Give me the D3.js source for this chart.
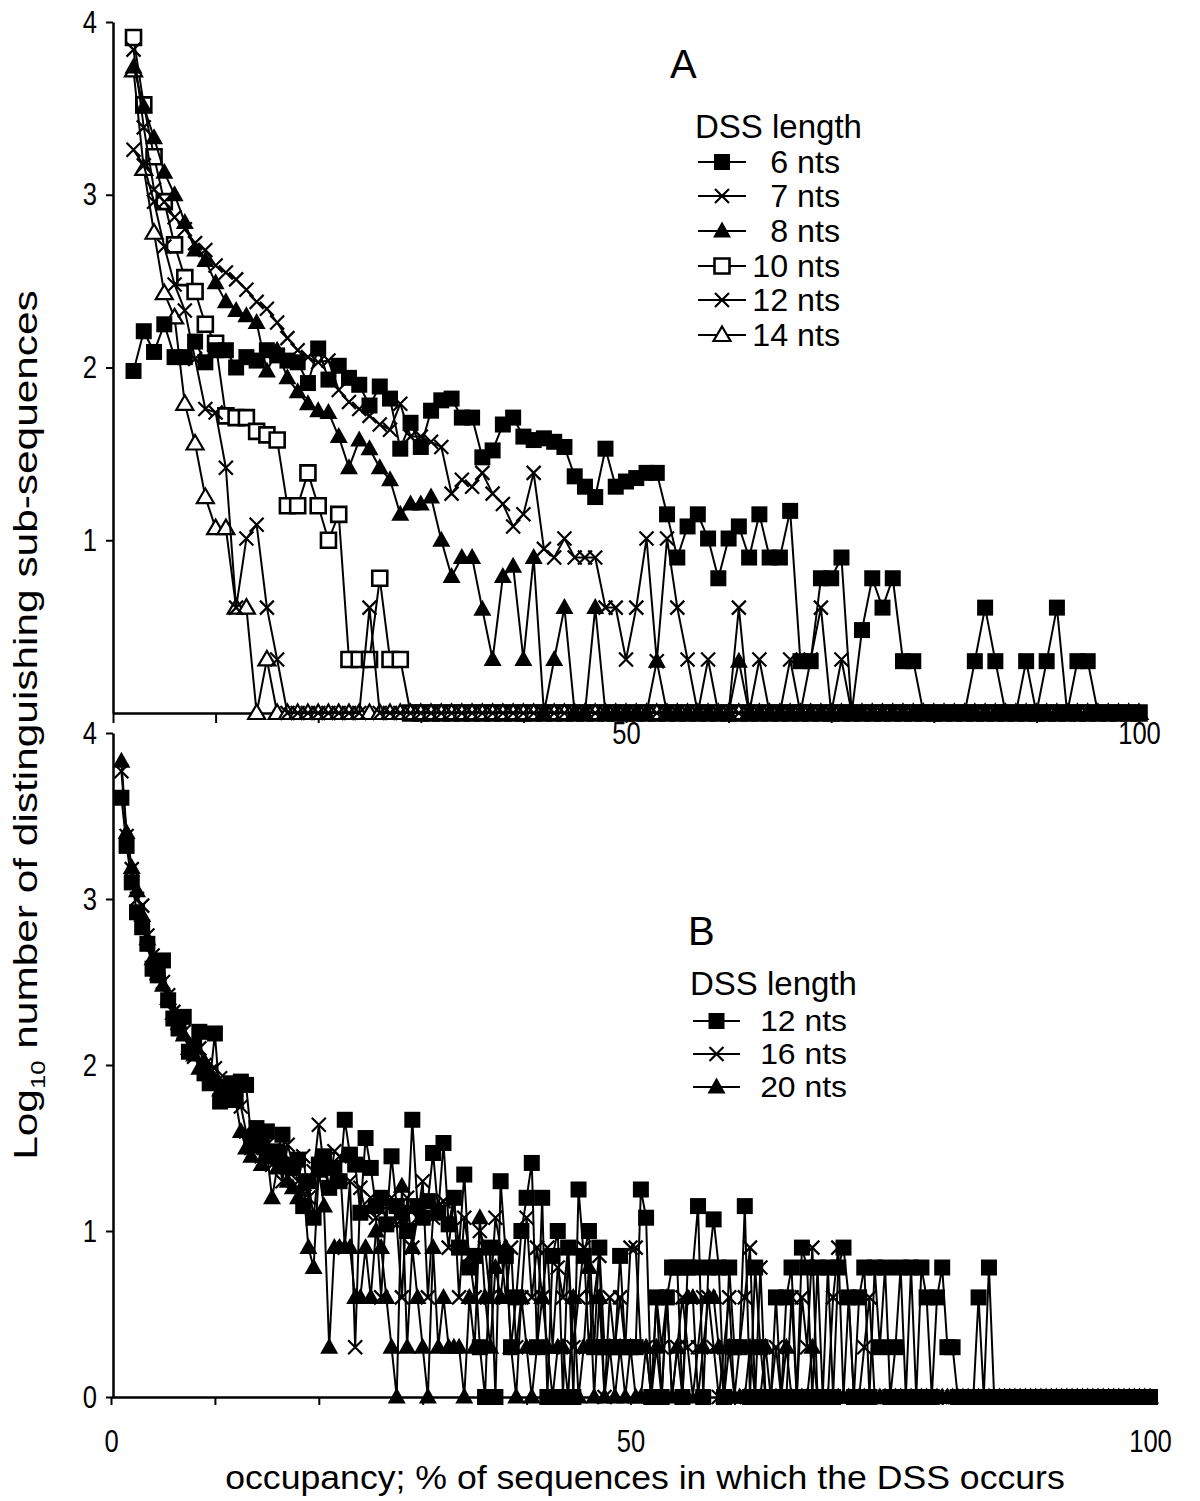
<!DOCTYPE html>
<html><head><meta charset="utf-8">
<script src="https://cdn.jsdelivr.net/npm/d3@7"></script>
<style>body{margin:0;background:#fff}svg{display:block}</style>
</head><body>
<svg id="c" width="1200" height="1501"></svg>
<script>
// ---------- DATA ----------
// Panel A: occupancy (%) 2..100 step 1
const occA = d3.range(2, 101);
const seriesNamesA = ["6 nts", "7 nts", "8 nts", "10 nts", "12 nts", "14 nts"];
const a6 = [1.98,2.21,2.09,2.25,2.06,2.06,2.15,2.03,2.10,2.10,
 2.00,2.06,2.04,2.10,2.07,2.04,2.03,1.91,2.11,1.93,
 2.01,1.94,1.90,1.78,1.89,1.82,1.53,1.68,1.54,1.75,
 1.81,1.82,1.71,1.71,1.48,1.52,1.67,1.71,1.60,1.58,
 1.59,1.57,1.54,1.37,1.31,1.25,1.53,1.31,1.34,1.36,
 1.39,1.39,1.15,0.90,1.08,1.15,1.01,0.78,1.01,1.08,
 0.90,1.15,0.90,0.90,1.17,0.30,0.30,0.78,0.78,0.90,
 0,0.48,0.78,0.61,0.78,0.30,0.30,0,0,0,
 0,0,0.30,0.61,0.30,0,0,0.30,0,0.30,
 0.61,0,0.30,0.30,0,0,0,0,0];
const a7 = [3.84,3.39,3.03,2.96,2.87,2.80,2.72,2.68,2.59,2.55,
 2.51,2.45,2.38,2.34,2.26,2.17,2.10,2.06,2.03,2.04,
 1.87,1.80,1.76,1.72,1.67,1.64,1.79,1.60,1.60,1.57,
 1.54,1.27,1.35,1.31,1.39,1.27,1.21,1.08,1.15,1.39,
 0.95,0.90,1.01,0.90,0.90,0.90,0.61,0.61,0.31,0.61,
 1.01,0.30,1.01,0.61,0.31,0,0.31,0,0,0.61,
 0,0.31,0,0,0.31,0,0.31,0.61,0,0.31,
 0,0,0,0,0,0,0,0,0,0,
 0,0,0,0,0,0,0,0,0,0,
 0,0,0,0,0,0,0,0,0];
const a8 = [3.74,3.51,3.33,3.13,3.00,2.84,2.68,2.62,2.49,2.38,
 2.33,2.30,2.26,1.98,2.10,1.94,1.86,1.79,1.75,1.74,
 1.60,1.42,1.58,1.53,1.42,1.35,1.15,1.21,1.21,1.25,
 1.00,0.79,0.90,0.90,0.60,0.31,0.79,0.85,0.31,0.90,
 0,0.31,0.61,0,0,0.61,0,0,0,0,
 0,0.30,0,0,0,0,0,0,0,0.30,
 0,0,0,0,0,0,0,0,0,0,
 0,0,0,0,0,0,0,0,0,0,
 0,0,0,0,0,0,0,0,0,0,
 0,0,0,0,0,0,0,0,0];
const a10 = [3.91,3.52,3.22,2.96,2.71,2.52,2.44,2.25,2.14,1.72,
 1.71,1.71,1.63,1.61,1.58,1.20,1.20,1.39,1.20,1.00,
 1.15,0.31,0.31,0.31,0.78,0.31,0.31,0,0,0,
 0,0,0,0,0,0,0,0,0,0,
 0,0,0,0,0,0,0,0,0,0,
 0,0,0,0,0,0,0,0,0,0,
 0,0,0,0,0,0,0,0,0,0,
 0,0,0,0,0,0,0,0,0,0,
 0,0,0,0,0,0,0,0,0,0,
 0,0,0,0,0,0,0,0,0];
const a12 = [3.26,3.17,2.96,2.70,2.48,2.33,2.05,1.76,1.74,1.42,
 0.61,1.01,1.09,0.61,0.31,0,0,0,0,0,
 0,0,0,0.61,0,0,0,0,0,0,
 0,0,0,0,0,0,0,0,0,0,
 0,0,0,0,0,0,0,0,0,0,
 0,0,0,0,0,0,0,0,0,0,
 0,0,0,0,0,0,0,0,0,0,
 0,0,0,0,0,0,0,0,0,0,
 0,0,0,0,0,0,0,0,0,0,
 0,0,0,0,0,0,0,0,0];
const a14 = [3.72,3.15,2.78,2.43,2.29,1.79,1.56,1.25,1.07,1.07,
 0.61,0.61,0,0.31,0,0,0,0,0,0,
 0,0,0,0,0,0,0,0,0,0,
 0,0,0,0,0,0,0,0,0,0,
 0,0,0,0,0,0,0,0,0,0,
 0,0,0,0,0,0,0,0,0,0,
 0,0,0,0,0,0,0,0,0,0,
 0,0,0,0,0,0,0,0,0,0,
 0,0,0,0,0,0,0,0,0,0,
 0,0,0,0,0,0,0,0,0];

// Panel B: occupancy (%) 1..100 step 0.5
const occB = d3.range(1, 100.001, 0.5);
const seriesNamesB = ["12 nts", "16 nts", "20 nts"];
const b12 = [3.61,3.32,3.10,2.92,2.83,2.73,2.58,2.54,2.63,2.39,
 2.28,2.22,2.29,2.08,2.11,2.20,1.95,1.89,2.19,1.78,
 1.85,1.89,1.80,1.90,1.88,1.56,1.62,1.52,1.60,1.45,
 1.48,1.58,1.40,1.38,1.43,1.15,1.30,1.08,1.40,1.45,
 1.26,1.38,1.30,1.67,1.46,1.40,1.11,1.56,1.38,1.15,
 1.20,1.04,1.45,1.15,1.11,1.00,1.67,1.15,1.08,1.18,
 1.47,1.11,1.53,1.04,1.20,0.90,1.34,0.78,0.85,0.30,
 0,0.90,0,1.30,0.85,0.30,0.60,1.00,1.20,1.41,
 0.30,1.20,0,0.85,1.00,0,0.90,0,1.25,0.85,
 1.00,0.30,0.90,0.30,0.30,0.30,0.85,0.30,0.30,0.30,
 1.25,1.08,0,0.60,0,0.60,0.78,0.78,0,0.78,
 0.78,1.15,0,0.78,1.07,0.78,0,0.78,0.30,0.30,
 1.15,0,0.78,0.30,0,0,0.60,0,0.60,0.78,
 0,0.90,0.78,0,0.78,0,0.78,0,0.78,0.90,
 0.60,0,0.60,0.78,0,0.78,0.30,0.78,0,0.30,
 0.78,0,0.78,0,0.78,0.60,0,0.60,0.78,0.30,
 0.30,0,0,0,0,0.60,0,0.78,0,0,
 0,0,0,0,0,0,0,0,0,0,
 0,0,0,0,0,0,0,0,0,0,
 0,0,0,0,0,0,0,0,0];
const b16 = [3.77,3.38,3.18,3.00,2.96,2.78,2.66,2.58,2.50,2.42,
 2.32,2.25,2.20,2.13,2.05,2.10,2.00,1.96,1.98,1.92,
 1.88,1.82,1.86,1.75,1.60,1.50,1.58,1.45,1.52,1.40,
 1.48,1.30,1.52,1.40,1.30,1.45,1.20,1.36,1.64,1.38,
 1.26,1.48,1.45,0.90,1.30,0.30,1.26,1.11,1.20,1.08,
 0.60,1.15,1.20,1.04,0.60,1.20,0.90,1.08,1.30,0.60,
 1.08,1.15,1.18,0.90,1.20,0.60,1.08,0.85,0.60,1.00,
 0.90,0.60,1.08,0.90,0.60,0.90,0.30,0.60,1.08,0.60,
 0.90,0.60,0.90,0.30,0.78,0.60,0.90,0.30,0.60,0.90,
 0.30,0.60,0.85,0,0.60,0.30,0.60,0.30,0.90,0.90,
 0.30,0.30,0,0.60,0.30,0.60,0,0.30,0.60,0.30,
 0,0.30,0.60,0.60,0.30,0,0.30,0.60,0,0.30,
 0.60,0.90,0,0.78,0,0,0.30,0,0,0.60,
 0,0.60,0.30,0.90,0,0,0,0.60,0.90,0,
 0.60,0,0,0.30,0.60,0,0,0,0,0,
 0,0,0,0,0,0,0,0,0,0,
 0,0,0,0,0,0,0,0,0,0,
 0,0,0,0,0,0,0,0,0,0,
 0,0,0,0,0,0,0,0,0,0,
 0,0,0,0,0,0,0,0,0];
const b20 = [3.83,3.40,3.19,3.05,2.90,2.76,2.64,2.55,2.48,2.40,
 2.31,2.25,2.18,2.10,2.06,1.98,2.02,1.95,1.90,1.85,
 1.80,1.84,1.78,1.60,1.50,1.45,1.55,1.40,1.48,1.20,
 1.38,1.45,1.30,1.26,1.20,1.28,0.90,0.78,1.36,1.15,
 0.30,0.90,0.90,0.90,0.90,0.60,0.60,0.90,0.60,1.00,
 0.90,0.60,0.30,0,1.27,0.30,0.90,0.60,0.30,0,
 0.90,0.30,0.60,0.30,0.30,0.30,0,0.60,0.30,1.08,
 0.60,0.30,0.78,0.60,0.90,0.30,0,0.60,0.30,0,
 0.30,0.60,0.30,0,0.30,0.30,0,0.60,0,0.30,
 0.78,0,0.60,0,0.30,0,0.30,0,0.30,0,
 0,0.30,0,0.30,0,0.60,0,0.30,0,0.60,
 0.60,0,0.30,0.60,0.60,0.30,0,0.30,0,0,
 0,0.30,0,0,0.30,0,0,0,0.30,0,
 0,0,0,0.30,0,0,0,0,0,0,
 0,0,0,0,0,0,0,0,0,0,
 0,0,0,0,0,0,0,0,0,0,
 0,0,0,0,0,0,0,0,0,0,
 0,0,0,0,0,0,0,0,0,0,
 0,0,0,0,0,0,0,0,0,0,
 0,0,0,0,0,0,0,0,0];

const yTickValues = [0, 1, 2, 3, 4];
const xTickValues = d3.range(0, 101, 10);
const xLabelValues = [0, 50, 100];

// ---------- DRAWING ----------
const FONT = "'Liberation Sans', Arial, Helvetica, sans-serif";
const COND = 0.8; // horizontal condensing of tick labels
const svg = d3.select("#c");
svg.append("rect").attr("width", 1200).attr("height", 1501).attr("fill", "#fff");

const xA = d3.scaleLinear([0, 100], [113, 1139]);
const yA = d3.scaleLinear([0, 4], [713, 22]);
const xB = d3.scaleLinear([0, 100], [111, 1150]);
const yB = d3.scaleLinear([0, 4], [1397, 733]);

function markerPath(type) {
  if (type === "square") return "M-8,-8H8V8H-8Z";
  if (type === "tri") return "M0,-9.5L9,6.5L-9,6.5Z";
  if (type === "otri") return "M0,-8.5L8.5,6L-8.5,6Z";
  if (type === "osquare") return "M-7.5,-7.5H7.5V7.5H-7.5Z";
  return "M-7,-7L7,7M-7,7L7,-7";
}
const styles = {
  square:  {fill: "#000", stroke: "none", sw: 0},
  tri:     {fill: "#000", stroke: "none", sw: 0},
  times:   {fill: "none", stroke: "#000", sw: 2.2},
  osquare: {fill: "#fff", stroke: "#000", sw: 2.6},
  otri:    {fill: "#fff", stroke: "#000", sw: 2.2}
};

function drawSeries(g, xs, vals, xS, yS, type) {
  const pts = xs.map((x, i) => ({x, v: vals[i]}));
  g.append("path").datum(pts)
    .attr("fill", "none").attr("stroke", "#000").attr("stroke-width", 2)
    .attr("stroke-linejoin", "round")
    .attr("d", d3.line().x(d => xS(d.x)).y(d => yS(d.v)));
  const st = styles[type];
  g.selectAll(null).data(pts).enter().append("path")
    .attr("transform", d => `translate(${xS(d.x)},${yS(d.v)})`)
    .attr("d", markerPath(type))
    .attr("fill", st.fill).attr("stroke", st.stroke).attr("stroke-width", st.sw);
}

function styleAxis(g) {
  g.select(".domain").attr("stroke", "#000").attr("stroke-width", 2.5);
  g.selectAll(".tick line").attr("stroke", "#000").attr("stroke-width", 2);
  g.selectAll(".tick text").attr("font-family", FONT).attr("font-size", 32).attr("fill", "#000")
    .each(function() {
      const t = d3.select(this);
      const x = +t.attr("x") || 0;
      t.attr("x", x / COND).attr("transform", `scale(${COND},1)`);
    });
}

// Panel A axes
const gA = svg.append("g");
const axA_y = gA.append("g").attr("transform", `translate(${xA(0)},0)`)
  .call(d3.axisLeft(yA).tickValues(yTickValues.filter(d => d > 0)).tickSize(7).tickPadding(9).tickSizeOuter(0).tickFormat(d3.format("d")));
styleAxis(axA_y);
const axA_x = gA.append("g").attr("transform", `translate(0,${yA(0)})`)
  .call(d3.axisBottom(xA).tickValues(xTickValues).tickSize(10).tickPadding(-2).tickSizeOuter(0)
    .tickFormat(d => (xLabelValues.includes(d) && d > 0) ? d : ""));
styleAxis(axA_x);

const typesA = ["square", "times", "tri", "osquare", "times", "otri"];
const valsA = [a6, a7, a8, a10, a12, a14];
const drawOrderA = [3, 5, 4, 2, 1, 0];
const plotA = svg.append("g");
drawOrderA.forEach(i => drawSeries(plotA.append("g"), occA, valsA[i], xA, yA, typesA[i]));

// Panel B axes
const gB = svg.append("g");
const axB_y = gB.append("g").attr("transform", `translate(${xB(0) + 2},0)`)
  .call(d3.axisLeft(yB).tickValues(yTickValues).tickSize(7).tickPadding(9).tickSizeOuter(0).tickFormat(d3.format("d")));
styleAxis(axB_y);
const axB_x = gB.append("g").attr("transform", `translate(0,${yB(0)})`)
  .call(d3.axisBottom(xB).tickValues(xTickValues).tickSize(8).tickPadding(24).tickSizeOuter(0)
    .tickFormat(d => xLabelValues.includes(d) ? d : ""));
styleAxis(axB_x);

const typesB = ["square", "times", "tri"];
const valsB = [b12, b16, b20];
const plotB = svg.append("g");
valsB.forEach((v, i) => drawSeries(plotB.append("g"), occB, v, xB, yB, typesB[i]));

// Panel letters and legends
function legend(x0, title, titleY, letter, letterX, letterY, names, types, rowsY, lineX0, lineX1, textEnd, fs, sx) {
  svg.append("text").attr("x", letterX).attr("y", letterY).attr("font-family", FONT)
    .attr("font-size", 40).text(letter);
  svg.append("text").attr("x", x0).attr("y", titleY).attr("font-family", FONT)
    .attr("font-size", 33).text(title);
  names.forEach((n, i) => {
    const y = rowsY[i];
    svg.append("line").attr("x1", lineX0).attr("x2", lineX1).attr("y1", y).attr("y2", y)
      .attr("stroke", "#000").attr("stroke-width", 2);
    const st = styles[types[i]];
    svg.append("path").attr("transform", `translate(${(lineX0 + lineX1) / 2},${y})`)
      .attr("d", markerPath(types[i])).attr("fill", st.fill).attr("stroke", st.stroke).attr("stroke-width", st.sw);
    svg.append("text").attr("transform", `translate(${textEnd},${y + fs * 0.36}) scale(${sx},1)`)
      .attr("text-anchor", "end")
      .attr("font-family", FONT).attr("font-size", fs).text(n);
  });
}
legend(695, "DSS length", 138, "A", 670, 78, seriesNamesA, typesA,
  [162, 196, 231, 266, 300, 335], 698, 746, 840, 31, 1.04);
legend(690, "DSS length", 995, "B", 688, 945, seriesNamesB, typesB,
  [1021, 1054, 1087], 693, 740, 847, 29, 1.1);

// Axis titles
const xt = svg.append("text").attr("font-family", FONT).attr("font-size", 33)
  .attr("text-anchor", "middle").text("occupancy; % of sequences in which the DSS occurs");
{
  const w = xt.node().getComputedTextLength();
  xt.attr("transform", `translate(645,1489) scale(${840 / w},1)`);
}
const yt = svg.append("text").attr("font-family", FONT).attr("font-size", 33)
  .attr("text-anchor", "middle");
yt.append("tspan").text("Log");
yt.append("tspan").attr("font-size", 20).attr("dy", 8).text("10");
yt.append("tspan").attr("dy", -8).text(" number of distinguishing sub-sequences");
{
  const w = yt.node().getComputedTextLength();
  yt.attr("transform", `translate(37,725) rotate(-90) scale(${870 / w},1)`);
}
</script>
</body></html>
